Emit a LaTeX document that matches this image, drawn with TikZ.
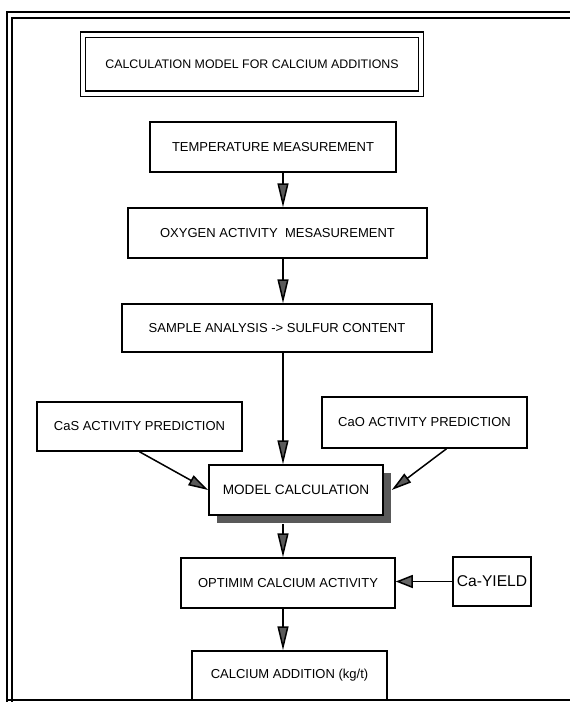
\documentclass[tikz,border=0pt]{standalone}
\usepackage{fontspec}
\setmainfont{Liberation Sans}
\usetikzlibrary{positioning}
\usetikzlibrary{arrows.meta}
\usetikzlibrary{shadows}

\tikzset{
  box/.style={draw,line width=0.75pt,inner sep=0pt,align=center,
    font=\fontsize{6.5}{7.8}\selectfont},
  flow/.style={line width=0.75pt,-{Triangle[length=12pt,width=5.5pt,fill=black!65]}},
  side/.style={line width=0.75pt,-{Triangle[length=10pt,width=5.5pt,fill=black!65]}},
  wide/.style={line width=0.75pt,-{Triangle[length=8.5pt,width=6.5pt,fill=black!60]}}
}

\begin{document}
\begin{tikzpicture}[x=0.5pt,y=-0.5pt]
 \useasboundingbox (0,0) rectangle (570,702);
 % frame
 \draw[line width=0.75pt](7,702)--(7,12)--(570,12);
 \draw[line width=0.75pt](12,702)--(12,18)--(570,18);
 \draw[line width=1pt](7,700)--(570,700);
 \coordinate (spine) at (283,0);
 % boxes
 \node[box,double,double distance=2pt,line width=0.6pt,minimum width=169pt,minimum height=29.5pt,
   font=\fontsize{6.2}{7.4}\selectfont] (title) at (252,64) {CALCULATION MODEL FOR CALCIUM ADDITIONS};
 \node[box,minimum width=123pt,minimum height=25pt] (temp) at (273,147) {TEMPERATURE MEASUREMENT};
 \node[box,minimum width=149.5pt,minimum height=25pt] (oxy) at (277.5,233) {OXYGEN ACTIVITY\ \ MESASUREMENT};
 \node[box,minimum width=155pt,minimum height=24pt] (sample) at (277,328) {SAMPLE ANALYSIS -> SULFUR CONTENT};
 \node[box,minimum width=102.5pt,minimum height=24.5pt] (cas) at (139.5,426.5) {CaS ACTIVITY PREDICTION};
 \node[box,minimum width=102.5pt,minimum height=25.5pt] (cao) at (424.5,422.5) {CaO ACTIVITY PREDICTION};
 \node[box,fill=white,minimum width=87pt,minimum height=25pt,font=\fontsize{6.8}{8}\selectfont,
   drop shadow={shadow xshift=3.8pt,shadow yshift=-4pt,fill=black!65,opacity=1}] (model) at (296,490) {MODEL CALCULATION};
 \node[box,minimum width=107pt,minimum height=25pt] (opt) at (288,583) {OPTIMIM CALCIUM ACTIVITY};
 \node[box,minimum width=39pt,minimum height=24.5pt,font=\fontsize{7.8}{9}\selectfont] (yield) at (492,581.5) {Ca-YIELD};
 \node[box,minimum width=97.5pt,minimum height=24.5pt] (add) at (289.5,675.5) {CALCIUM ADDITION (kg/t)};
 % connectors
 \draw[flow](temp.south -| spine)--(oxy.north -| spine);
 \draw[flow](oxy.south -| spine)--(sample.north -| spine);
 \draw[flow](sample.south -| spine)--(model.north -| spine);
 \draw[side](cas.south)--(model.west);
 \draw[side]([xshift=11pt]cao.south)--([xshift=4pt]model.east);
 \draw[flow]([yshift=-4pt]model.south -| spine)--(opt.north -| spine);
 \draw[wide](yield.west)--(yield.west -| opt.east);
 \draw[flow](opt.south -| spine)--(add.north -| spine);
\end{tikzpicture}
\end{document}
